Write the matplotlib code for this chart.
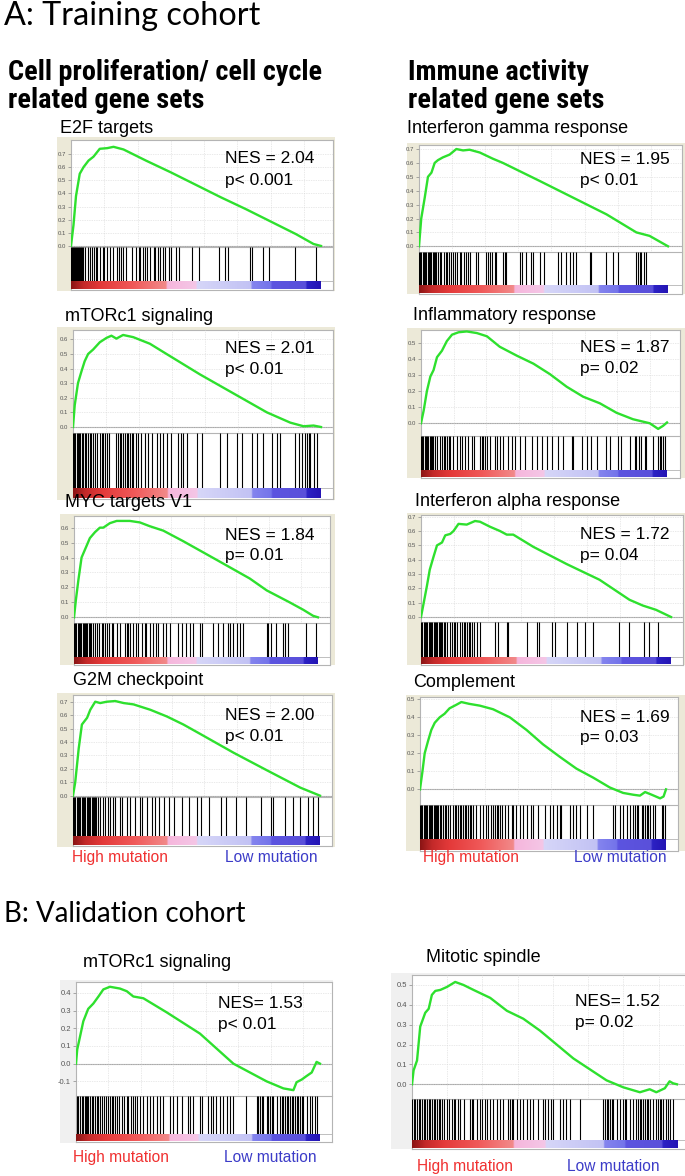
import numpy as np
import matplotlib
matplotlib.use("Agg")
import matplotlib.pyplot as plt
from matplotlib import font_manager as fm
from matplotlib.colors import LinearSegmentedColormap

W, H = 685, 1176
RANK_N = 1000

# ------------------------------------------------------------------ data
E2F_RANK = [0, 10, 20, 35, 50, 70, 90, 115, 145, 170, 210, 300, 400, 500, 600, 700, 800, 900, 970, 1000]
E2F_ES = [0, .16, .38, .55, .60, .65, .68, .74, .745, .755, .735, .65, .56, .465, .37, .28, .185, .09, .015, 0.0]
E2F_HITS = [0, 4, 8, 12, 16, 20, 24, 28, 32, 36, 40, 43, 49, 56, 69, 76, 83, 92, 100, 105, 116, 127, 132, 143,
            154, 167, 183, 190, 199, 207, 220, 243, 260, 270, 276, 287, 296, 303, 316, 330, 336, 346, 356, 367,
            376, 390, 400, 420, 430, 483, 510, 590, 617, 626, 714, 724, 768, 790, 897, 981]

MTOR_RANK = [0, 7, 20, 34, 47, 61, 81, 108, 135, 155, 175, 202, 243, 310, 377, 512, 647, 782, 876, 930, 970, 1000]
MTOR_ES = [0, .15, .3, .38, .45, .5, .53, .58, .61, .625, .605, .63, .615, .57, .5, .36, .23, .1, .03, .005, .01, 0]
MTOR_HITS = [0, 5, 10, 15, 20, 25, 30, 35, 40, 47, 54, 61, 67, 74, 81, 88, 97, 108, 115, 121, 128, 137, 146,
             175, 182, 189, 195, 202, 209, 216, 222, 229, 236, 243, 253, 263, 276, 290, 303, 317, 337, 350, 364,
             380, 394, 425, 434, 445, 458, 499, 519, 593, 620, 660, 681, 721, 741, 768, 802, 822, 836, 896, 910,
             923, 937, 943, 950, 957, 970, 984]

MYC_RANK = [0, 8, 18, 31, 52, 65, 86, 106, 120, 147, 175, 229, 270, 310, 366, 447, 584, 720, 790, 884, 940, 980, 1000]
MYC_ES = [0, .12, .25, .4, .48, .53, .57, .6, .6, .63, .645, .645, .635, .61, .58, .51, .385, .26, .18, .10, .05, .01, 0]
MYC_HITS = [0, 5, 10, 15, 20, 25, 30, 35, 40, 45, 50, 55, 60, 65, 70, 79, 86, 93, 104, 113, 120, 127, 134, 145,
            154, 161, 175, 188, 209, 216, 222, 229, 243, 254, 263, 277, 291, 297, 311, 325, 336, 345, 366, 379,
            393, 427, 441, 461, 475, 488, 516, 523, 570, 591, 611, 632, 638, 652, 666, 679, 693, 789, 795, 809,
            829, 857, 864, 877, 952, 990]

G2M_RANK = [0, 9, 23, 36, 57, 70, 90, 110, 137, 171, 205, 245, 313, 380, 447, 515, 650, 784, 920, 1000]
G2M_ES = [0, .1, .35, .53, .58, .64, .7, .69, .70, .705, .69, .68, .64, .59, .53, .46, .32, .19, .06, 0]
G2M_HITS = [0, 5, 10, 15, 20, 25, 30, 35, 40, 45, 50, 55, 60, 65, 70, 75, 80, 85, 90, 95, 100, 110, 120, 130,
            140, 150, 160, 170, 190, 200, 220, 230, 250, 270, 280, 300, 320, 330, 350, 370, 390, 410, 440, 470,
            500, 520, 550, 600, 620, 660, 700, 760, 800, 810, 860, 890, 920, 950, 970, 990]

IFNG_RANK = [0, 9, 23, 36, 50, 63, 76, 96, 123, 150, 177, 203, 244, 297, 337, 485, 619, 753, 873, 926, 1000]
IFNG_ES = [0, .2, .35, .5, .53, .6, .62, .64, .66, .70, .69, .695, .675, .63, .6, .47, .35, .23, .1, .075, 0]
IFNG_HITS = [0, 5, 10, 15, 20, 25, 30, 35, 40, 45, 50, 55, 60, 65, 70, 76, 83, 90, 99, 107, 112, 120, 130, 137,
             143, 153, 163, 170, 179, 187, 197, 203, 230, 237, 268, 277, 284, 295, 304, 311, 337, 344, 351, 404,
             415, 431, 451, 458, 485, 501, 558, 572, 592, 605, 618, 632, 685, 692, 752, 779, 799, 873, 880, 886,
             893, 902, 913]

INFL_RANK = [0, 11, 24, 38, 51, 65, 85, 105, 126, 153, 186, 227, 268, 320, 389, 457, 524, 592, 659, 727, 795,
             862, 930, 964, 984, 1000]
INFL_ES = [0, .08, .2, .29, .33, .41, .45, .51, .55, .565, .57, .56, .54, .475, .42, .37, .305, .227, .165, .124,
           .065, .025, 0, -.035, -.016, .005]
INFL_HITS = [0, 5, 10, 15, 20, 25, 30, 35, 40, 45, 50, 58, 65, 76, 85, 92, 99, 105, 112, 119, 132, 146, 159, 166,
             180, 193, 207, 214, 241, 247, 254, 261, 270, 281, 301, 308, 322, 335, 355, 369, 382, 403, 423, 450,
             470, 491, 511, 531, 558, 578, 612, 619, 653, 673, 693, 714, 754, 768, 801, 815, 849, 869, 876, 886,
             896, 909, 916, 943, 964, 970, 977, 984, 991]

IFNA_RANK = [0, 11, 24, 35, 50, 64, 84, 97, 117, 130, 150, 183, 216, 236, 276, 316, 343, 369, 449, 582, 714, 834,
             887, 940, 1000]
IFNA_ES = [0, .1, .22, .33, .42, .5, .52, .57, .58, .6, .65, .645, .67, .665, .63, .6, .575, .575, .49, .37, .26,
           .12, .08, .05, 0]
IFNA_HITS = [0, 5, 10, 15, 20, 25, 30, 35, 40, 45, 50, 55, 60, 65, 70, 75, 80, 85, 90, 97, 104, 117, 124, 130,
             137, 143, 154, 163, 170, 177, 183, 190, 197, 203, 210, 223, 236, 296, 309, 343, 349, 422, 462, 473,
             522, 535, 582, 622, 655, 688, 794, 834, 894, 914, 947]

COMP_RANK = [0, 10, 19, 33, 46, 60, 80, 100, 120, 148, 168, 200, 243, 297, 365, 433, 500, 569, 636, 704, 772,
             826, 867, 894, 915, 942, 976, 990, 1000]
COMP_ES = [0, .1, .2, .27, .33, .37, .4, .42, .45, .47, .485, .475, .465, .445, .4, .33, .25, .18, .115, .065,
           .01, -.02, -.03, -.035, -.015, -.03, -.05, -.04, 0]
COMP_HITS = [0, 5, 10, 15, 20, 25, 30, 35, 40, 45, 50, 55, 60, 65, 70, 75, 80, 87, 94, 100, 107, 114, 121, 134,
             141, 148, 155, 161, 168, 175, 182, 189, 195, 202, 209, 216, 229, 243, 256, 270, 277, 290, 297, 304,
             311, 318, 324, 335, 345, 358, 372, 379, 392, 406, 419, 433, 453, 460, 480, 507, 528, 541, 555, 569,
             575, 609, 623, 636, 650, 677, 704, 786, 792, 813, 826, 840, 853, 867, 874, 881, 887, 901, 908, 915,
             921, 928, 935, 948, 955, 982, 989, 996]

MTORV_RANK = [0, 5, 16, 30, 50, 71, 92, 112, 139, 180, 208, 235, 276, 372, 508, 645, 781, 850, 891, 904, 925,
              945, 966, 986, 1000]
MTORV_ES = [0, .08, .15, .24, .31, .34, .38, .42, .435, .425, .41, .38, .37, .29, .17, 0, -.1, -.14, -.15, -.105,
            -.09, -.07, -.05, .01, 0]
MTORV_HITS = [3, 10, 16, 23, 30, 37, 41, 46, 51, 57, 64, 71, 78, 85, 92, 98, 105, 115, 123, 133, 139, 146, 153,
              160, 169, 178, 187, 197, 208, 214, 224, 235, 242, 249, 262, 276, 290, 303, 314, 331, 344, 355, 385,
              399, 413, 433, 460, 467, 478, 508, 515, 542, 552, 563, 574, 590, 604, 617, 631, 645, 697, 740, 747,
              754, 761, 768, 781, 788, 795, 802, 809, 822, 836, 843, 850, 857, 863, 870, 877, 884, 891, 898, 904,
              911, 918, 925, 932, 945, 959, 966, 980, 986]

MITO_RANK = [0, 6, 19, 31, 50, 63, 75, 88, 107, 132, 163, 194, 232, 295, 358, 420, 483, 609, 734, 797, 860, 897,
             922, 954, 972, 985, 1000]
MITO_ES = [0, .07, .12, .29, .36, .38, .45, .47, .475, .49, .515, .5, .475, .435, .37, .33, .27, .13, .02, -.015,
           -.04, -.025, -.04, -.02, .015, .005, 0]
MITO_HITS = [0, 6, 13, 19, 25, 31, 38, 44, 50, 56, 63, 69, 75, 82, 88, 94, 100, 107, 113, 122, 132, 138, 151, 157,
             163, 172, 182, 197, 220, 226, 232, 245, 255, 263, 276, 282, 295, 307, 320, 332, 345, 364, 370, 376,
             383, 395, 408, 418, 433, 445, 458, 477, 493, 502, 514, 523, 533, 558, 571, 583, 596, 634, 721, 728,
             734, 740, 747, 753, 759, 772, 784, 797, 803, 809, 822, 834, 847, 853, 859, 866, 872, 878, 885, 891,
             897, 910, 922, 928, 935, 941, 947, 960, 966, 972, 985]

PANEL_TITLES = ["E2F targets", "mTORc1 signaling", "MYC targets V1", "G2M checkpoint",
                "Interferon gamma response", "Inflammatory response", "Interferon alpha response", "Complement",
                "mTORc1 signaling", "Mitotic spindle"]
NES_TEXT = ["NES = 2.04", "NES = 2.01", "NES = 1.84", "NES = 2.00",
            "NES = 1.95", "NES = 1.87", "NES = 1.72", "NES = 1.69",
            "NES= 1.53", "NES= 1.52"]
P_TEXT = ["p< 0.001", "p< 0.01", "p= 0.01", "p< 0.01",
          "p< 0.01", "p= 0.02", "p= 0.04", "p= 0.03",
          "p< 0.01", "p= 0.02"]
YTICKS = [[0, .1, .2, .3, .4, .5, .6, .7], [0, .1, .2, .3, .4, .5, .6], [0, .1, .2, .3, .4, .5, .6],
          [0, .1, .2, .3, .4, .5, .6, .7], [0, .1, .2, .3, .4, .5, .6, .7], [0, .1, .2, .3, .4, .5],
          [0, .1, .2, .3, .4, .5, .6, .7], [0, .1, .2, .3, .4, .5], [-.1, 0, .1, .2, .3, .4],
          [0, .1, .2, .3, .4, .5]]

SERIES = [(E2F_RANK, E2F_ES, E2F_HITS), (MTOR_RANK, MTOR_ES, MTOR_HITS), (MYC_RANK, MYC_ES, MYC_HITS),
          (G2M_RANK, G2M_ES, G2M_HITS), (IFNG_RANK, IFNG_ES, IFNG_HITS), (INFL_RANK, INFL_ES, INFL_HITS),
          (IFNA_RANK, IFNA_ES, IFNA_HITS), (COMP_RANK, COMP_ES, COMP_HITS), (MTORV_RANK, MTORV_ES, MTORV_HITS),
          (MITO_RANK, MITO_ES, MITO_HITS)]

# ------------------------------------------------------------------ layout (pixels, y from top)
LAYOUT = [
    dict(frame=(57, 137, 335, 291), pl=71, dr=321, pr=333, es=(140, 247), hb=281, bb=289, ylim=(-0.008, 0.807),
         title=(60, 133), nes=(225, 163, 185), val=False),
    dict(frame=(57, 327, 335, 500), pl=73, dr=321, pr=333, es=(330, 433), hb=488, bb=498, ylim=(-0.041, 0.664),
         title=(65, 321), nes=(225, 353, 374), val=False),
    dict(frame=(60, 514, 335, 665), pl=74, dr=318, pr=330, es=(516, 623), hb=657, bb=664, ylim=(-0.038, 0.678),
         title=(65, 507), nes=(225, 540, 560), val=False),
    dict(frame=(57, 693, 335, 847), pl=73, dr=320, pr=332, es=(695, 797), hb=836, bb=845, ylim=(-0.01, 0.75),
         title=(73, 685), nes=(225, 720, 741), val=False),
    dict(frame=(407, 143, 685, 294), pl=419, dr=668, pr=682, es=(145, 252), hb=285, bb=293, ylim=(-0.041, 0.729),
         title=(407, 133), nes=(580, 164, 185), val=False),
    dict(frame=(407, 328, 685, 478), pl=421, dr=667, pr=680, es=(330, 436), hb=470, bb=477, ylim=(-0.079, 0.579),
         title=(413, 320), nes=(580, 352, 373), val=False),
    dict(frame=(407, 513, 685, 665), pl=421, dr=671, pr=683, es=(515, 622), hb=657, bb=664, ylim=(-0.035, 0.712),
         title=(415, 506), nes=(580, 539, 560), val=False),
    dict(frame=(406, 695, 685, 851), pl=420, dr=666, pr=678, es=(697, 805), hb=839, bb=850, ylim=(-0.087, 0.513),
         title=(413, 687), nes=(580, 722, 742), val=False),
    dict(frame=(60, 980, 333, 1143), pl=76, dr=320, pr=332, es=(982, 1096), hb=1134, bb=1141, ylim=(-0.183, 0.462),
         title=(83, 967), nes=(218, 1008, 1029), val=True),
    dict(frame=(391, 973, 690, 1149), pl=412, dr=677, pr=690, es=(975, 1099), hb=1140, bb=1148, ylim=(-0.074, 0.55),
         title=(426, 962), nes=(575, 1006, 1027), val=True),
]

# ------------------------------------------------------------------ style
GREEN = "#2ee02e"
BEIGE = "#ECE9D8"
LIGHTGRAY = "#F0F0F0"
BORDER = "#b4b4b4"
RED_TXT = "#f03030"
BLUE_TXT = "#3c3cc8"
BAR_STOPS = [(0.0, "#8a1414"), (0.05, "#c42a2a"), (0.12, "#e43a3a"), (0.25, "#f05a5a"), (0.38, "#f28a8a"),
             (0.385, "#f6b6dc"), (0.5, "#f4c6e6"), (0.505, "#d6d6f8"), (0.72, "#c2c2f4"), (0.725, "#8484ee"),
             (0.8, "#7474ea"), (0.805, "#5c54e0"), (0.94, "#5a50da"), (0.945, "#2c22c4"), (1.0, "#2414b4")]
BAR_CMAP = LinearSegmentedColormap.from_list("gsea", BAR_STOPS, N=512)

names = {f.name for f in fm.fontManager.ttflist}
SANS = "Liberation Sans"
SEC_FONT = "Lato" if "Lato" in names else "Open Sans"


def find_condensed_bold():
    pref = ["Liberation Sans Narrow", "Arial Narrow", "Roboto Condensed", "Open Sans Condensed",
            "DejaVu Sans Condensed", "Noto Sans Condensed"]
    found = []
    for f in fm.fontManager.ttflist:
        low = (f.name + " " + f.fname).lower()
        is_cond = ("narrow" in low or "condensed" in low or str(f.stretch) in ("condensed", "semi-condensed"))
        is_bold = (f.weight in ("bold", 700, "700") or "bold" in f.fname.lower())
        if is_cond and is_bold and "italic" not in f.fname.lower() and "oblique" not in f.fname.lower():
            found.append(f)
    for p in pref:
        for f in found:
            if f.name.startswith(p.split()[0]) and ("narrow" in f.fname.lower() or "condensed" in f.fname.lower()):
                return fm.FontProperties(fname=f.fname)
    if found:
        return fm.FontProperties(fname=found[0].fname)
    return fm.FontProperties(family=SANS, weight="bold")


HEAD_FP = find_condensed_bold()

fig = plt.figure(figsize=(W / 100, H / 100), dpi=100)
renderer = fig.canvas.get_renderer()


def px_axes(l, t, r, b, **kw):
    return fig.add_axes([l / W, 1 - b / H, (r - l) / W, (b - t) / H], **kw)


def px_text(x, y, s, **kw):
    kw.setdefault("va", "baseline")
    if "fontproperties" not in kw:
        kw.setdefault("family", SANS)
    return fig.text(x / W, 1 - y / H, s, **kw)


def fit_width(t, target):
    w = t.get_window_extent(renderer).width
    t.set_fontsize(t.get_fontsize() * target / w)
    return t.get_fontsize()


def clean(ax):
    ax.set_xticks([])
    ax.set_yticks([])
    for sp in ax.spines.values():
        sp.set_visible(False)


for i, (lay, (rank, es, hits)) in enumerate(zip(LAYOUT, SERIES)):
    fl, ft, fr, fb = lay["frame"]
    fax = px_axes(fl, ft, fr, fb)
    fax.set_facecolor(LIGHTGRAY if lay["val"] else BEIGE)
    clean(fax)

    pl, dr, pr = lay["pl"], lay["dr"], lay["pr"]
    xmax = RANK_N * (pr - pl) / (dr - pl)
    est, esb = lay["es"]

    bg = px_axes(pl, est, pr, lay["bb"] + 1)
    bg.set_facecolor("white")
    bg.set_xticks([])
    bg.set_yticks([])
    for sp in bg.spines.values():
        sp.set_color(BORDER)
        sp.set_linewidth(0.8)

    ax = px_axes(pl, est, pr, esb)
    ax.patch.set_alpha(0)
    ax.set_xlim(0, xmax)
    ax.set_ylim(*lay["ylim"])
    ax.set_xticks(np.arange(133, xmax, 133))
    ax.set_xticklabels([])
    ax.set_yticks(YTICKS[i])
    ax.set_yticklabels(["%.1f" % v for v in YTICKS[i]])
    ax.tick_params(axis="x", length=0)
    ax.tick_params(axis="y", length=2, width=0.5, color="#888888", pad=1.5,
                   labelsize=5.5 if lay["val"] else 4.3, labelcolor="#555555")
    ax.grid(True, color="#d4d4d4", linestyle=(0, (1, 1.5)), linewidth=0.5)
    for k, sp in ax.spines.items():
        sp.set_visible(k == "bottom")
    ax.spines["bottom"].set_color(BORDER)
    ax.spines["bottom"].set_linewidth(0.8)
    ax.axhline(0, color="#a8a8a8", lw=0.8, zorder=1)
    ax.plot(rank, es, color=GREEN, lw=1.7, zorder=3, solid_joinstyle="round")
    for lab in ax.get_yticklabels():
        lab.set_family(SANS)

    hax = px_axes(pl, esb, pr, lay["hb"])
    hax.patch.set_alpha(0)
    hax.set_xlim(0, xmax)
    hax.set_ylim(0, 1)
    clean(hax)
    hax.spines["bottom"].set_visible(True)
    hax.spines["bottom"].set_color(BORDER)
    hax.spines["bottom"].set_linewidth(0.6)
    hax.vlines(hits, 0, 1, color="black", lw=0.8)

    cax = px_axes(pl, lay["hb"], pr, lay["bb"])
    cax.patch.set_alpha(0)
    clean(cax)
    cax.imshow(np.linspace(0, 1, 512)[None, :], cmap=BAR_CMAP, aspect="auto",
               extent=(0, RANK_N, 0, 1), interpolation="bilinear")
    cax.set_xlim(0, xmax)
    cax.set_ylim(0, 1)

    tx, tb = lay["title"]
    px_text(tx, tb, PANEL_TITLES[i], fontsize=13)
    nx, nb1, nb2 = lay["nes"]
    px_text(nx, nb1, NES_TEXT[i], fontsize=12.5)
    px_text(nx, nb2, P_TEXT[i], fontsize=12.5)

# mutation direction labels
for (hx, lx, yb) in [(72, 318, 862), (423, 667, 862), (73, 317, 1162), (417, 660, 1171)]:
    px_text(hx, yb, "High mutation", fontsize=11.2, color=RED_TXT)
    px_text(lx, yb, "Low mutation", fontsize=11.2, color=BLUE_TXT, ha="right")

# section titles
ta = px_text(4, 25, "A: Training cohort", fontsize=19, family=SEC_FONT)
fit_width(ta, 256)
tbv = px_text(4, 922, "B: Validation cohort", fontsize=19, family=SEC_FONT)
fit_width(tbv, 242)

# column headers
h1 = px_text(8, 80, "Cell proliferation/ cell cycle", fontsize=18, fontproperties=HEAD_FP)
hs = fit_width(h1, 314)
for (x, y, s) in [(8, 108, "related gene sets"), (408, 80, "Immune activity"), (408, 108, "related gene sets")]:
    t = px_text(x, y, s, fontproperties=HEAD_FP)
    t.set_fontsize(hs)

fig.savefig("out.png", dpi=100)
